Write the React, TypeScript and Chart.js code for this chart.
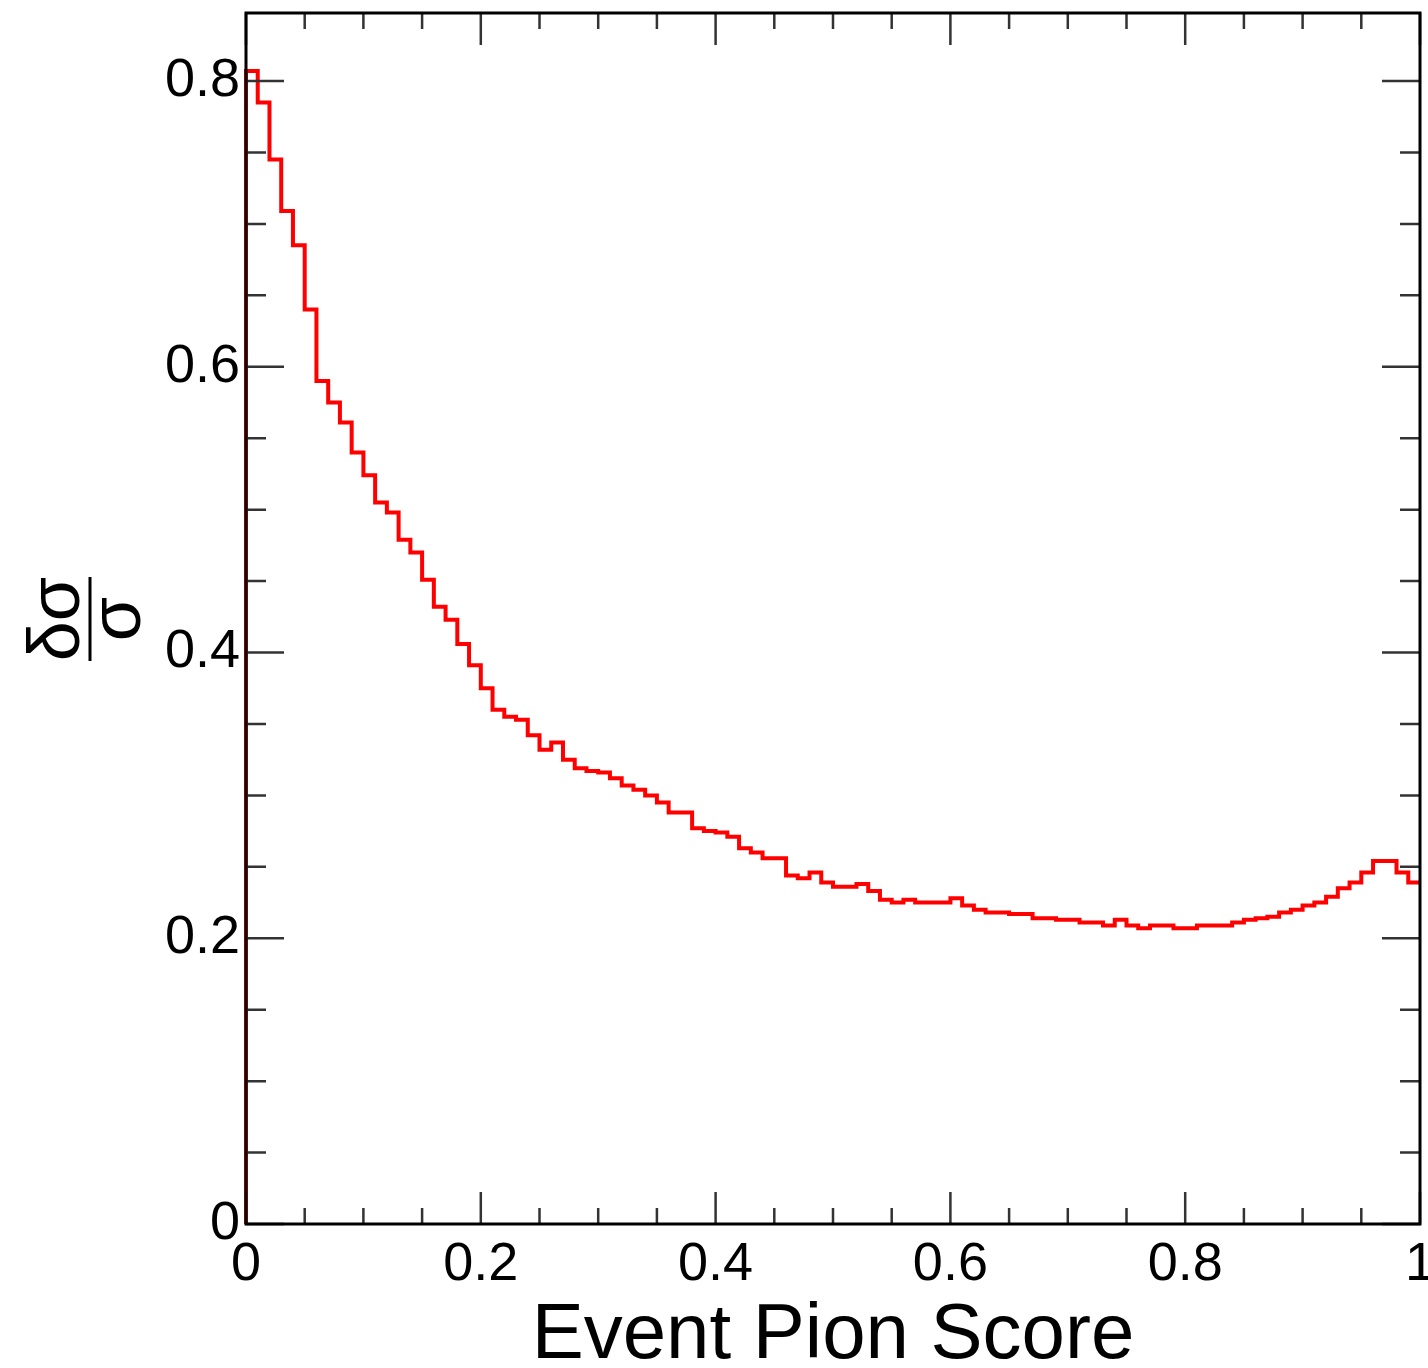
import React, { useEffect, useRef } from "react";
import { Chart, registerables } from "chart.js";

Chart.register(...registerables);

// Histogram: 100 bins on [0, 1]
const binLow = 0;
const binWidth = 0.01;
const binValues = [
  0.807, 0.785, 0.745, 0.709, 0.685, 0.640, 0.590, 0.575, 0.561, 0.540,
  0.524, 0.505, 0.498, 0.479, 0.470, 0.451, 0.432, 0.423, 0.406, 0.391,
  0.375, 0.360, 0.355, 0.353, 0.342, 0.332, 0.337, 0.325, 0.319, 0.317,
  0.316, 0.312, 0.307, 0.304, 0.300, 0.295, 0.288, 0.288, 0.277, 0.275,
  0.274, 0.271, 0.263, 0.260, 0.256, 0.256, 0.244, 0.242, 0.246, 0.239,
  0.236, 0.236, 0.238, 0.233, 0.227, 0.225, 0.227, 0.225, 0.225, 0.225,
  0.228, 0.223, 0.220, 0.218, 0.218, 0.217, 0.217, 0.214, 0.214, 0.213,
  0.213, 0.211, 0.211, 0.209, 0.213, 0.209, 0.207, 0.209, 0.209, 0.207,
  0.207, 0.209, 0.209, 0.209, 0.211, 0.213, 0.214, 0.215, 0.218, 0.220,
  0.223, 0.225, 0.229, 0.235, 0.239, 0.246, 0.254, 0.254, 0.246, 0.239,
];

const xRange = [0, 1];
const yRange = [0, 0.8476];
const xMajorStep = 0.2;
const xMinorStep = 0.05;
const yMajorStep = 0.2;
const yMinorStep = 0.05;
const xTitle = "Event Pion Score";
const yTitleNum = "δσ";
const yTitleDen = "σ";

const FONT = "'Liberation Sans', Arial, Helvetica, sans-serif";

const framePlugin = {
  id: "rootFrame",
  afterDatasetsDraw(chart: any) {
    const { ctx, chartArea } = chart;
    const { left, right, top, bottom } = chartArea;
    const xs = chart.scales.x;
    const ys = chart.scales.y;
    ctx.save();
    ctx.strokeStyle = "#333";
    ctx.lineWidth = 2.5;
    ctx.beginPath();
    const nx = Math.round((xRange[1] - xRange[0]) / xMinorStep);
    for (let i = 0; i <= nx; i++) {
      const v = xRange[0] + i * xMinorStep;
      const major = Math.abs(v / xMajorStep - Math.round(v / xMajorStep)) < 1e-6;
      const len = major ? 32 : 16;
      const px = xs.getPixelForValue(v);
      ctx.moveTo(px, bottom);
      ctx.lineTo(px, bottom - len);
      ctx.moveTo(px, top);
      ctx.lineTo(px, top + len);
    }
    const ny = Math.floor((yRange[1] - yRange[0]) / yMinorStep + 1e-6);
    for (let i = 0; i <= ny; i++) {
      const v = yRange[0] + i * yMinorStep;
      const major = Math.abs(v / yMajorStep - Math.round(v / yMajorStep)) < 1e-6;
      const len = major ? 38 : 20;
      const py = ys.getPixelForValue(v);
      ctx.moveTo(left, py);
      ctx.lineTo(left + len, py);
      ctx.moveTo(right, py);
      ctx.lineTo(right - len, py);
    }
    ctx.stroke();
    ctx.strokeStyle = "#000";
    ctx.lineWidth = 3;
    ctx.strokeRect(left, top, right - left, bottom - top);
    ctx.restore();
  },
  afterDraw(chart: any) {
    const { ctx, chartArea } = chart;
    ctx.save();
    ctx.fillStyle = "#000";
    ctx.font = `78px ${FONT}`;
    ctx.textAlign = "center";
    ctx.textBaseline = "alphabetic";
    ctx.fillText(xTitle, (chartArea.left + chartArea.right) / 2, 1358);
    ctx.translate(0, 619);
    ctx.rotate(-Math.PI / 2);
    ctx.font = `72px ${FONT}`;
    ctx.fillText(yTitleNum, 0, 79);
    ctx.fillText(yTitleDen, 0, 140);
    ctx.strokeStyle = "#000";
    ctx.lineWidth = 3;
    ctx.beginPath();
    ctx.moveTo(-42, 90);
    ctx.lineTo(42, 90);
    ctx.stroke();
    ctx.restore();
  },
};

export default function App() {
  const canvasRef = useRef<HTMLCanvasElement | null>(null);

  useEffect(() => {
    const canvas = canvasRef.current;
    if (!canvas) return;
    // step outline: start at zero, then each bin's upper edge held until the next bin
    const points: { x: number; y: number }[] = [{ x: binLow, y: 0 }];
    binValues.forEach((v, i) => points.push({ x: binLow + i * binWidth, y: v }));
    points.push({ x: binLow + binValues.length * binWidth, y: binValues[binValues.length - 1] });

    const tickFmt = (v: any) => String(Math.round(Number(v) * 10) / 10);

    const chart = new Chart(canvas, {
      type: "line",
      data: {
        datasets: [
          {
            data: points,
            stepped: "before",
            borderColor: "#ff0000",
            borderWidth: 4,
            pointRadius: 0,
            fill: false,
            clip: false,
          } as any,
        ],
      },
      plugins: [framePlugin],
      options: {
        animation: false,
        responsive: false,
        devicePixelRatio: 1,
        events: [],
        layout: { padding: { top: 13, right: 8, left: 0, bottom: 0 } },
        plugins: { legend: { display: false }, tooltip: { enabled: false } },
        scales: {
          x: {
            type: "linear",
            min: xRange[0],
            max: xRange[1],
            grid: { display: false, drawTicks: false },
            border: { display: false },
            ticks: {
              stepSize: xMajorStep,
              autoSkip: false,
              maxRotation: 0,
              padding: 9,
              color: "#000",
              font: { family: FONT, size: 54 },
              callback: tickFmt,
            },
            afterFit: (s: any) => {
              s.height = 144;
              s.paddingLeft = 0;
              s.paddingRight = 0;
            },
          },
          y: {
            type: "linear",
            min: yRange[0],
            max: yRange[1],
            grid: { display: false, drawTicks: false },
            border: { display: false },
            ticks: {
              stepSize: yMajorStep,
              includeBounds: false,
              autoSkip: false,
              padding: 6,
              color: "#000",
              font: { family: FONT, size: 54 },
              callback: tickFmt,
            },
            afterFit: (s: any) => {
              s.width = 246;
              s.paddingTop = 0;
              s.paddingBottom = 0;
            },
          },
        },
      } as any,
    });
    return () => chart.destroy();
  }, []);

  return (
    <div style={{ position: "absolute", left: 0, top: 0, width: 1428, height: 1368, background: "#fff" }}>
      <canvas ref={canvasRef} width={1428} height={1368} style={{ display: "block" }} />
    </div>
  );
}
